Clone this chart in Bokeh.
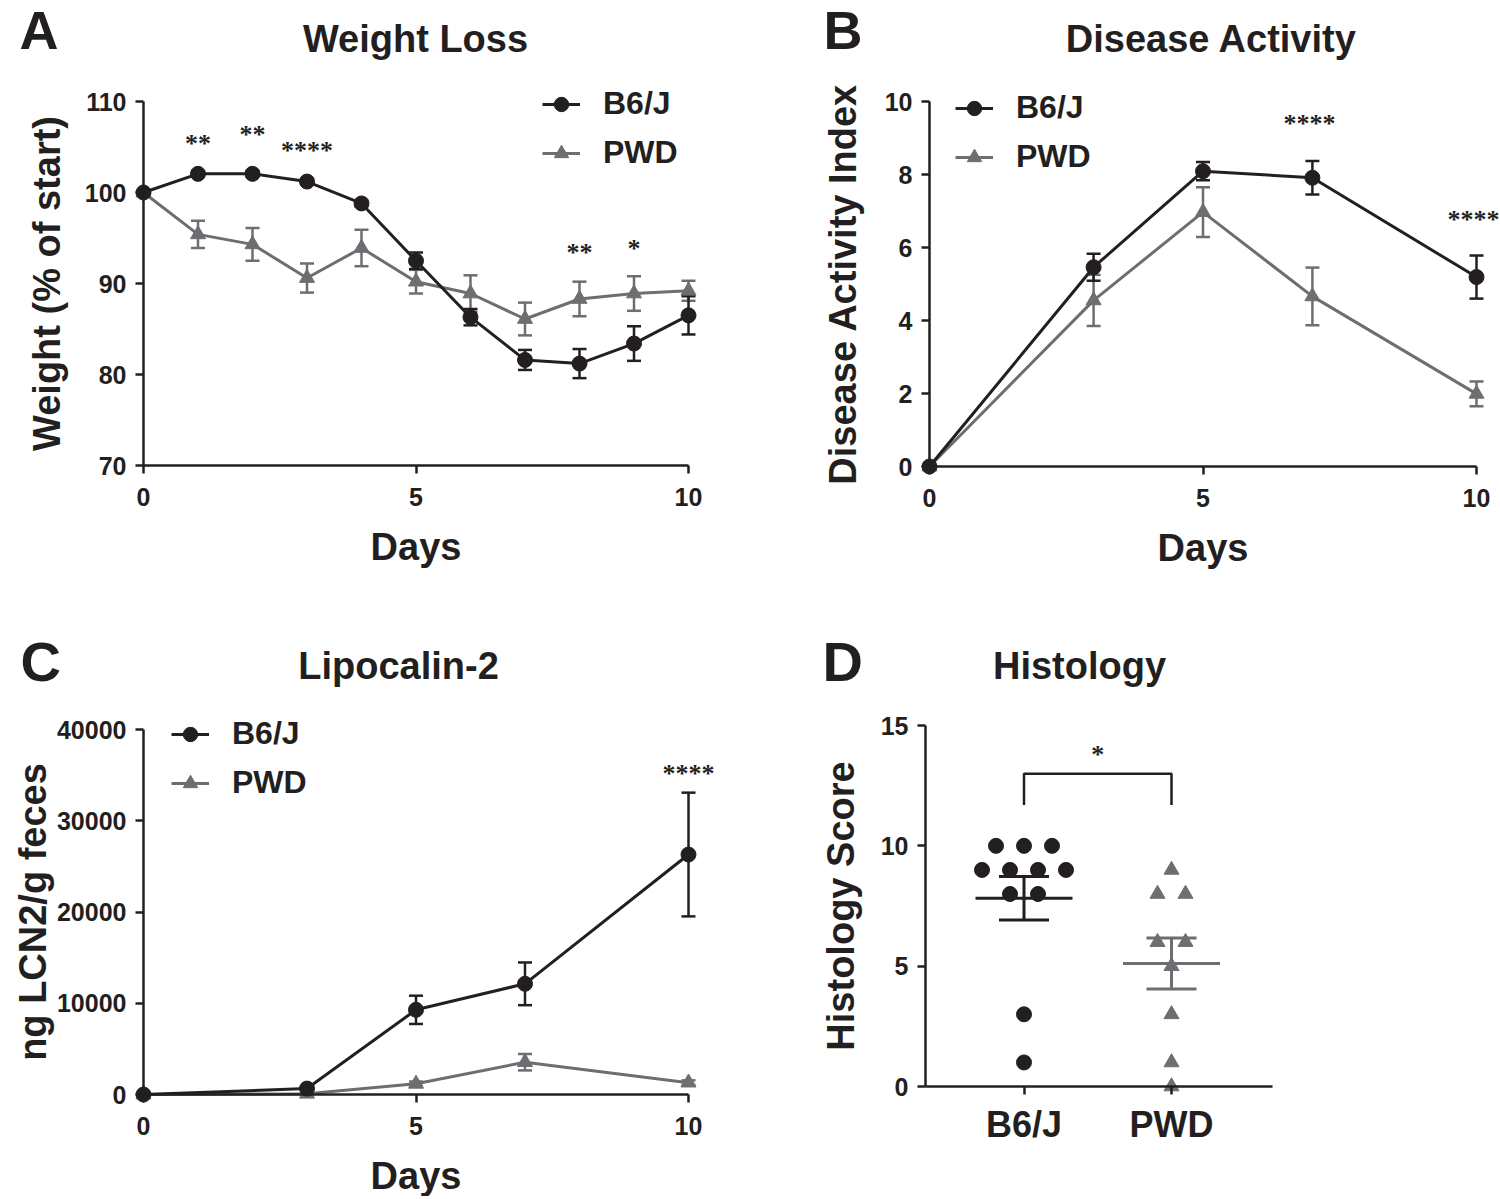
import numpy as np
from collections import Counter
from bokeh.plotting import figure
from bokeh.layouts import column, row
from bokeh.models import (Range1d, Whisker, ColumnDataSource, Label, LabelSet, Legend,
                          LegendItem, FixedTicker, TeeHead)
from bokeh.embed import file_html
from bokeh.resources import INLINE

FONT = "Liberation Sans"
BLACK = "#231f20"
GRAY = "#6d6e71"

# ---------------- data ----------------
weight_days = [0, 1, 2, 3, 4, 5, 6, 7, 8, 9, 10]
b6_weight = [100, 102.05, 102.05, 101.2, 98.8, 92.5, 86.3, 81.6, 81.2, 83.4, 86.5]
b6_weight_sem = [0, 0.3, 0.3, 0.3, 0.3, 0.9, 0.9, 1.1, 1.6, 1.9, 2.1]
pwd_weight = [100, 95.4, 94.3, 90.6, 93.9, 90.2, 88.9, 86.1, 88.3, 88.9, 89.2]
pwd_weight_sem = [0, 1.5, 1.8, 1.6, 2.0, 1.3, 2.0, 1.8, 1.9, 1.9, 1.1]
weight_star_days = [1, 2, 3, 8, 9]
weight_star_text = ["**", "**", "****", "**", "*"]
weight_star_y = [103.8, 104.8, 103.0, 91.8, 92.3]

dai_days = [0, 3, 5, 7, 10]
b6_dai = [0, 5.46, 8.09, 7.91, 5.19]
b6_dai_sem = [0, 0.37, 0.25, 0.46, 0.59]
pwd_dai = [0, 4.55, 6.97, 4.66, 1.99]
pwd_dai_sem = [0, 0.70, 0.68, 0.79, 0.34]
dai_star_days = [7, 10]
dai_star_text = ["****", "****"]
dai_star_y = [9.01, 6.38]

lcn_days = [0, 3, 5, 7, 10]
b6_lcn = [0, 650, 9280, 12130, 26300]
b6_lcn_sem = [0, 150, 1550, 2340, 6780]
pwd_lcn = [0, 80, 1170, 3540, 1300]
pwd_lcn_sem = [0, 50, 250, 900, 250]
lcn_star_days = [10]
lcn_star_text = ["****"]
lcn_star_y = [33640]

histo_groups = ["B6/J", "PWD"]
b6_histo = [10, 10, 10, 9, 9, 9, 9, 8, 8, 3, 1]
pwd_histo = [9, 8, 8, 6, 6, 5, 3, 1, 0]
histo_sig_text = "*"
histo_bracket_top = 13.0
histo_bracket_foot = 11.7
histo_star_y = 13.21

weight_ticks_x = [0, 5, 10]
weight_ticks_y = [70, 80, 90, 100, 110]
dai_ticks_y = [0, 2, 4, 6, 8, 10]
lcn_ticks_y = [0, 10000, 20000, 30000, 40000]
histo_ticks_y = [0, 5, 10, 15]


# ---------------- geometry helpers (page pixel coords) ----------------
class Geo:
    """Frame covers the whole figure; axes are placed at fixed data locations."""

    def __init__(self, ox, oy, w, h, xa, xb, ya, yb):
        self.ox, self.oy, self.w, self.h = ox, oy, w, h
        L, R, T, B = ox, ox + w, oy, oy + h
        self.L, self.R, self.T, self.B = L, R, T, B
        self.sx = (xb[1] - xa[1]) / (xb[0] - xa[0])
        self.x0 = xa[1] + (L - xa[0]) * self.sx
        self.x1 = xa[1] + (R - xa[0]) * self.sx
        self.sy = (yb[1] - ya[1]) / (ya[0] - yb[0])
        self.y0 = ya[1] - (B - ya[0]) * self.sy
        self.y1 = ya[1] + (ya[0] - T) * self.sy

    def X(self, px):
        return self.x0 + (px - self.L) * self.sx

    def Y(self, py):
        return self.y0 + (self.B - py) * self.sy


def make_fig(g):
    p = figure(width=g.w, height=g.h,
               x_range=Range1d(g.x0, g.x1), y_range=Range1d(g.y0, g.y1),
               output_backend="svg", toolbar_location=None, tools="",
               min_border_left=0, min_border_right=0, min_border_top=0, min_border_bottom=0)
    p.title.visible = False
    p.outline_line_color = None
    p.grid.visible = False
    return p


def style_axes(p, xfix, yfix, xb, yb, xticks, yticks, xlabel, ylabel, ylab_standoff):
    for ax in (p.xaxis[0], p.yaxis[0]):
        ax.axis_line_width = 2.5
        ax.axis_line_color = BLACK
        ax.major_tick_line_width = 2.5
        ax.major_tick_line_color = BLACK
        ax.major_tick_out = 8
        ax.major_tick_in = 0
        ax.minor_tick_line_color = None
        ax.major_label_text_font = FONT
        ax.major_label_text_font_size = "25px"
        ax.major_label_text_font_style = "bold"
        ax.major_label_text_color = BLACK
        ax.major_label_standoff = 9
        ax.axis_label_text_font = FONT
        ax.axis_label_text_font_size = "38px"
        ax.axis_label_text_font_style = "bold"
        ax.axis_label_text_color = BLACK
    p.xaxis[0].major_label_standoff = 14
    p.xaxis[0].fixed_location = xfix
    p.yaxis[0].fixed_location = yfix
    p.xaxis[0].bounds = xb
    p.yaxis[0].bounds = yb
    p.xaxis[0].ticker = FixedTicker(ticks=xticks)
    p.yaxis[0].ticker = FixedTicker(ticks=yticks)
    if xlabel:
        p.xaxis[0].axis_label = xlabel
        p.xaxis[0].axis_label_standoff = 17
    if ylabel:
        p.yaxis[0].axis_label = ylabel
        p.yaxis[0].axis_label_standoff = ylab_standoff


def add_text(p, g, px, py, text, size, align):
    p.add_layout(Label(x=g.X(px), y=g.Y(py), text=text, text_font=FONT,
                       text_font_size=size, text_font_style="bold", text_color=BLACK,
                       text_align=align, text_baseline="alphabetic"))


def add_series(p, days, b6, b6_sem, pwd, pwd_sem):
    rends = {}
    for name, vals, sem, color, marker in (("PWD", pwd, pwd_sem, GRAY, "triangle"),
                                           ("B6/J", b6, b6_sem, BLACK, "circle")):
        d = np.array(days, float)
        v = np.array(vals, float)
        s = np.array(sem, float)
        m = s > 0
        src_e = ColumnDataSource(dict(x=d[m], up=(v + s)[m], lo=(v - s)[m]))
        p.add_layout(Whisker(base="x", upper="up", lower="lo", source=src_e,
                             line_color=color, line_width=2.5,
                             upper_head=TeeHead(size=14, line_color=color, line_width=2.5),
                             lower_head=TeeHead(size=14, line_color=color, line_width=2.5)))
        src = ColumnDataSource(dict(x=days, y=vals))
        ln = p.line("x", "y", source=src, line_color=color, line_width=3, line_join="round")
        sc = p.scatter("x", "y", source=src, marker=marker, size=15,
                       fill_color=color, line_color=color)
        rends[name] = [ln, sc]
    return rends


def add_legend(p, g, rends, gx, row1):
    top = row1 - 18
    bottom = top + 36 * 2 + 12
    leg = Legend(items=[LegendItem(label="B6/J", renderers=rends["B6/J"]),
                        LegendItem(label="PWD", renderers=rends["PWD"])],
                 location=(gx - g.L, g.B - bottom), padding=0, margin=0, spacing=12,
                 glyph_width=38, glyph_height=36, label_height=36, label_standoff=23,
                 label_text_font=FONT, label_text_font_size="32px",
                 label_text_font_style="bold", label_text_color=BLACK,
                 border_line_color=None, background_fill_alpha=0)
    p.add_layout(leg)


def add_stars(p, g, days, ys, texts, dx=0):
    # lift by a few pixels so that the asterisks sit where they are in the figure
    ys_adj = [y + 6 * g.sy for y in ys]
    src = ColumnDataSource(dict(x=days, y=ys_adj, t=texts))
    p.add_layout(LabelSet(x="x", y="y", text="t", source=src, text_font=FONT,
                          text_font_size="26px", text_font_style="bold", text_color=BLACK,
                          text_align="center", text_baseline="alphabetic", x_offset=dx))


# ---------------- Panel A ----------------
gA = Geo(0, 0, 750, 600, (143, 0), (688, 10), (465, 70), (101, 110))
pA = make_fig(gA)
style_axes(pA, 70, 0, (0, 10), (70, 110), weight_ticks_x, weight_ticks_y,
           "Days", "Weight (% of start)", 14)
rA = add_series(pA, weight_days, b6_weight, b6_weight_sem, pwd_weight, pwd_weight_sem)
add_legend(pA, gA, rA, 542, 105)
add_stars(pA, gA, weight_star_days, weight_star_y, weight_star_text)
add_text(pA, gA, 19, 29, "A", "54px", "left")
add_text(pA, gA, 415, 38, "Weight Loss", "38px", "center")

# ---------------- Panel B ----------------
gB = Geo(750, 0, 750, 600, (929, 0), (1476, 10), (466, 0), (101, 10))
pB = make_fig(gB)
style_axes(pB, 0, 0, (0, 10), (0, 10), weight_ticks_x, dai_ticks_y,
           "Days", "Disease Activity Index", 18)
rB = add_series(pB, dai_days, b6_dai, b6_dai_sem, pwd_dai, pwd_dai_sem)
add_legend(pB, gB, rB, 955, 109)
add_stars(pB, gB, dai_star_days, dai_star_y, dai_star_text, dx=-3)
add_text(pB, gB, 823, 29, "B", "54px", "left")
add_text(pB, gB, 1211, 38, "Disease Activity", "38px", "center")

# ---------------- Panel C ----------------
gC = Geo(0, 600, 750, 596, (143, 0), (688, 10), (1094, 0), (729, 40000))
pC = make_fig(gC)
style_axes(pC, 0, 0, (0, 10), (0, 40000), weight_ticks_x, lcn_ticks_y,
           "Days", "ng LCN2/g feces", 0)
rC = add_series(pC, lcn_days, b6_lcn, b6_lcn_sem, pwd_lcn, pwd_lcn_sem)
add_legend(pC, gC, rC, 171, 735)
add_stars(pC, gC, lcn_star_days, lcn_star_y, lcn_star_text)
add_text(pC, gC, 20, 661, "C", "56px", "left")
add_text(pC, gC, 398, 665, "Lipocalin-2", "38px", "center")

# ---------------- Panel D ----------------
gD = Geo(750, 600, 750, 596, (1023.5, 1), (1171, 2), (1086, 0), (725, 15))
pD = make_fig(gD)
d_left, d_right = gD.X(925), gD.X(1272)
style_axes(pD, 0, d_left, (d_left, d_right), (0, 15), [1, 2], histo_ticks_y,
           None, "Histology Score", 16)
pD.xaxis[0].major_label_overrides = {1: histo_groups[0], 2: histo_groups[1]}
pD.xaxis[0].major_label_text_font_size = "36px"
pD.xaxis[0].major_label_standoff = 9

step = 28 * gD.sx


def swarm(vals, center):
    counts = Counter(vals)
    seen = {}
    xs = []
    for v in vals:
        n = counts[v]
        i = seen.get(v, 0)
        seen[v] = i + 1
        xs.append(center + (i - (n - 1) / 2) * step)
    return xs


for k, (vals, color, marker) in enumerate(((b6_histo, BLACK, "circle"),
                                           (pwd_histo, GRAY, "triangle"))):
    c = k + 1
    pD.scatter(swarm(vals, c), vals, marker=marker, size=15, fill_color=color, line_color=color)
    mean = float(np.mean(vals))
    sem = float(np.std(vals, ddof=1) / np.sqrt(len(vals)))
    pD.add_layout(Whisker(base="x", upper="up", lower="lo", level="overlay",
                          source=ColumnDataSource(dict(x=[c], up=[mean + sem], lo=[mean - sem])),
                          line_color=color, line_width=3,
                          upper_head=TeeHead(size=50, line_color=color, line_width=3),
                          lower_head=TeeHead(size=50, line_color=color, line_width=3)))
    pD.scatter([c], [mean], marker="dash", size=97, line_color=color, line_width=3)

pD.line([1, 1, 2, 2], [histo_bracket_foot, histo_bracket_top, histo_bracket_top, histo_bracket_foot],
        line_color=BLACK, line_width=2.5)
add_stars(pD, gD, [1.5], [histo_star_y], [histo_sig_text])
add_text(pD, gD, 822, 661, "D", "56px", "left")
add_text(pD, gD, 1079, 665, "Histology", "38px", "center")

layout = column(row(pA, pB), row(pC, pD))
open("out.html", "w").write(file_html(layout, INLINE))
